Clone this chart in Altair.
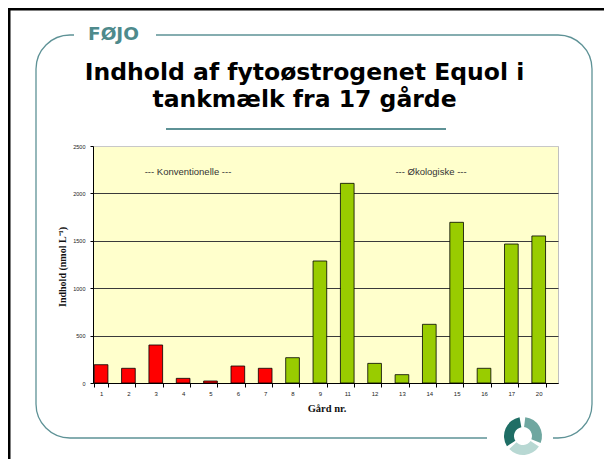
import altair as alt
import pandas as pd

# ---- data ----
farms = ["1", "2", "3", "4", "5", "6", "7", "8", "9", "11", "12", "13", "14", "15", "16", "17", "20"]
equol = [193, 155, 401, 49, 21, 179, 155, 267, 1287, 2106, 207, 88, 619, 1695, 155, 1466, 1551]
groups = ["Konventionel", "Konventionel", "Konventionel", "Konventionel", "Konventionel",
          "Konventionel", "Konventionel", "Økologisk", "Økologisk", "Økologisk", "Økologisk",
          "Økologisk", "Økologisk", "Økologisk", "Økologisk", "Økologisk", "Økologisk"]
group_names = ["Konventionel", "Økologisk"]
group_colors = ["#FF0000", "#99CC00"]
y_ticks = [0, 500, 1000, 1500, 2000, 2500]

brand = "FØJO"
title1 = "Indhold af fytoøstrogenet Equol i"
title2 = "tankmælk fra 17 gårde"
note_left = "--- Konventionelle ---"
note_right = "--- Økologiske ---"
x_title = "Gård nr."
y_title = "Indhold (nmol L⁻¹)"

TEAL = "#5E9296"

df = pd.DataFrame({"farm": farms, "equol": equol, "group": groups})
one = pd.DataFrame({"k": [0]})

bars = alt.Chart(df).mark_bar(stroke="black", strokeWidth=0.8).encode(
    x=alt.X("farm:N", sort=farms, title=None,
            scale=alt.Scale(paddingInner=0.5, paddingOuter=0.25, align=0.09),
            axis=alt.Axis(labelAngle=0, labelFont="Liberation Sans", labelFontSize=6,
                          labelColor="#222222", tickBand="extent", tickSize=4,
                          tickColor="black", domainColor="black", labelPadding=3, grid=False)),
    y=alt.Y("equol:Q", title=None, scale=alt.Scale(domain=[0, 2500], nice=False),
            axis=alt.Axis(values=y_ticks, format="d", labelFont="Liberation Sans", labelFontSize=5.5,
                          labelColor="#222222", tickSize=3, tickColor="black",
                          labelPadding=5, domainColor="black", gridWidth=1,
                          gridColor={"condition": {"test": "datum.value >= 2500", "value": "#C8C8C8"},
                                     "value": "#3A3A3A"})),
    color=alt.Color("group:N", scale=alt.Scale(domain=group_names, range=group_colors), legend=None),
)


def txt(s, x, y, **kw):
    return alt.Chart(one).mark_text(**kw).encode(
        x=alt.value(x), y=alt.value(y), text=alt.value(s))


def box(x, x2, y, y2, **kw):
    return alt.Chart(one).mark_rect(**kw).encode(
        x=alt.value(x), x2=alt.value(x2), y=alt.value(y), y2=alt.value(y2))


def arc(t1, t2, col):
    return alt.Chart(one).mark_arc(radius=19, radius2=9, color=col).encode(
        x=alt.value(430), y=alt.value(290), theta=alt.value(t1), theta2=alt.value(t2))


layers = [
    box(-85, -82.5, -138, 330, color="black"),
    box(-85, 511, -138, -135.5, color="black"),
    box(-57, 499, -111, 292, filled=False, stroke=TEAL, strokeWidth=1.3, cornerRadius=34),
    box(-19, 63, -118, -104, color="white"),
    box(394, 460, 284, 300, color="white"),
    box(73, 353, -18, -16, color=TEAL),
    arc(0.12, 1.95, "#6FA7A0"),
    arc(2.15, 3.95, "#B8D8D3"),
    arc(4.15, 6.1, "#1F6E65"),
    txt(brand, -5, -106, align="left", baseline="alphabetic", font="DejaVu Sans",
        fontWeight="bold", fontSize=18.5, color="#4E8A8C"),
    txt(title1, 211.5, -66, align="center", baseline="alphabetic", font="DejaVu Sans",
        fontWeight="bold", fontSize=23.5, color="black"),
    txt(title2, 211.5, -39, align="center", baseline="alphabetic", font="DejaVu Sans",
        fontWeight="bold", fontSize=23.5, color="black"),
    bars,
    txt(note_left, 95, 26, align="center", baseline="middle", font="Liberation Sans",
        fontSize=9.5, color="#333333"),
    txt(note_right, 338, 26, align="center", baseline="middle", font="Liberation Sans",
        fontSize=9.5, color="#333333"),
    txt(x_title, 234, 263, align="center", baseline="middle", font="Liberation Serif",
        fontWeight="bold", fontSize=10.5, color="#111111"),
    txt(y_title, -30, 121, align="center", baseline="middle", font="Liberation Serif",
        fontWeight="bold", fontSize=10, color="#111111", angle=270),
]

chart = alt.layer(*layers).properties(
    width=465, height=237,
    padding={"left": 85, "top": 138, "right": 46, "bottom": 90},
    autosize=alt.AutoSizeParams(type="none"),
    background="white",
).configure_view(fill="#FFFFCC", stroke="#C0C0C0", strokeWidth=1)

chart.save("out.html", embed_options={"renderer": "svg", "actions": False})
